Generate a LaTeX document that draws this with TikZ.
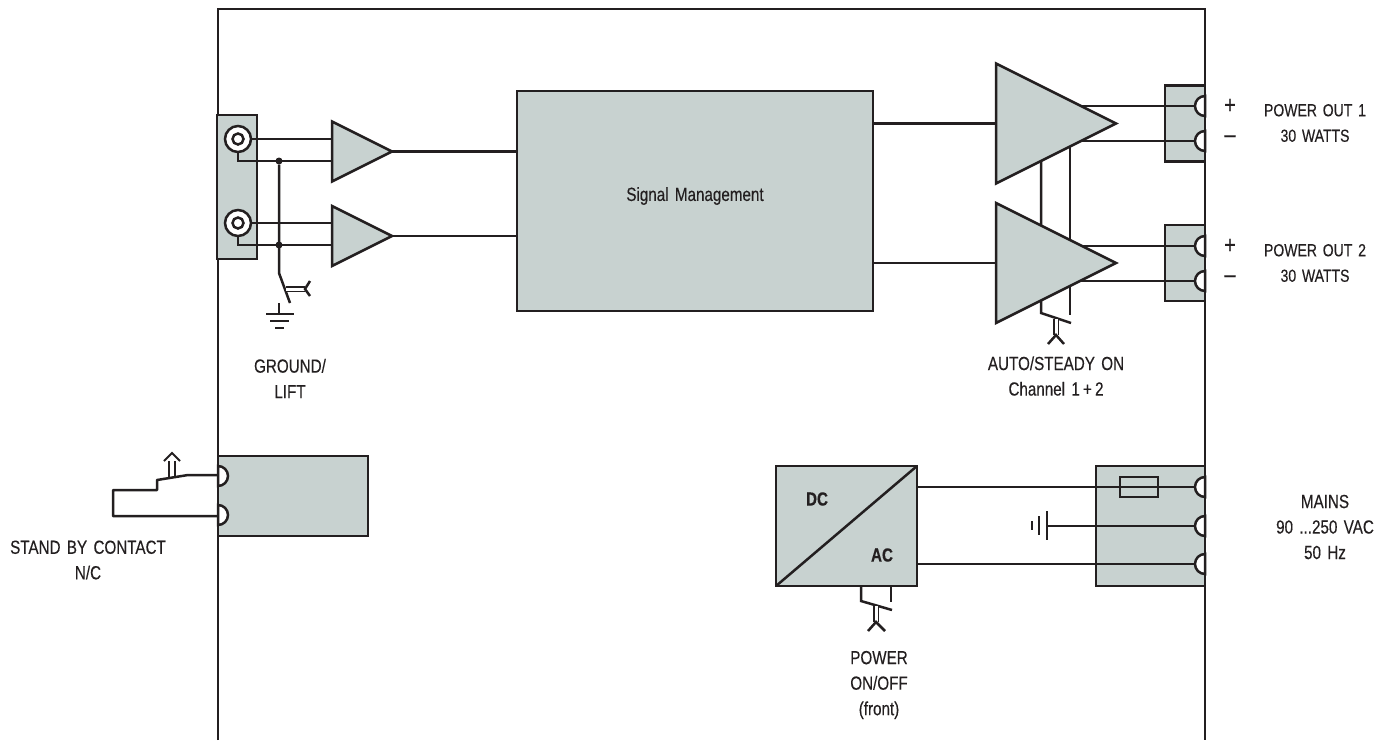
\documentclass[tikz,border=0pt]{standalone}
\usepackage{fontspec}
\setmainfont[FakeStretch=0.8,FakeBold=0.3,WordSpace=1.5]{Liberation Sans}
\usetikzlibrary{shapes.geometric,calc}
\definecolor{blockgrey}{HTML}{C8D2D0}
\definecolor{ink}{HTML}{231F20}
\tikzset{
    wire/.style={draw=ink,line width=2.5pt},
    block/.style={draw=ink,fill=blockgrey,line width=2.5pt,inner sep=0pt,outer sep=0pt},
    amp/.style={draw=ink,fill=blockgrey,line width=2.5pt,isosceles triangle,isosceles triangle stretches,inner sep=0pt,outer sep=0pt,shape border rotate=0,anchor=lower side},
    pin/.style={draw=ink,fill=white,line width=2.5pt},
    txt/.style={text=ink,align=center,inner sep=0pt,font=\fontsize{19}{25.5}\selectfont},
    sign/.style={text=ink,inner sep=0pt,font=\fontsize{25}{25}\selectfont},
    knob/.style={draw=ink,line width=1.5pt,double,double distance=3pt},
    dotpt/.style={circle,fill=ink,inner sep=0pt,minimum size=7pt}
}
\begin{document}
\begin{tikzpicture}[x=1pt,y=-1pt]
    \useasboundingbox (0,0) rectangle (1394,740);
    % frame
    \coordinate (fa) at (218,740);
    \coordinate (fb) at (218,9);
    \coordinate (fc) at (1205,9);
    \coordinate (fd) at (1205,740);
    \draw[wire](fa)--(fb)--(fc)--(fd);
    % blocks
    \node[block,minimum width=40pt,minimum height=144pt] (input) at (237,187) {};
    \node[block,minimum width=356pt,minimum height=220pt] (sig) at (695,201) {};
    \node[txt] (siglabel) at (695,196) {Signal Management};
    \node[block,minimum width=40pt,minimum height=76pt] (out1) at (1185,123.5) {};
    \node[block,minimum width=40pt,minimum height=76pt] (out2) at (1185,263) {};
    \node[block,minimum width=150pt,minimum height=80pt] (standby) at (293,496) {};
    \node[block,minimum width=141pt,minimum height=120pt] (psu) at (846.5,526) {};
    \node[block,minimum width=109pt,minimum height=120pt] (mains) at (1150.5,526) {};
    \draw[wire](psu.south west)--(psu.north east);
    \node[txt,font=\fontsize{19}{21}\bfseries\selectfont] (dc) at (817,499) {DC};
    \node[txt,font=\fontsize{19}{21}\bfseries\selectfont] (ac) at (882,555) {AC};
    % switching lines behind the power amplifiers
    \coordinate (swa) at (1041,160);
    \coordinate (swb) at (1041,313);
    \coordinate (swc) at (1071,323);
    \coordinate (swd) at (1070,147);
    \coordinate (swe) at (1070,315);
    \draw[wire](swa)--(swb)--(swc);
    \draw[wire](swd)--(swe);
    % amplifiers
    \node[amp,minimum width=60pt,minimum height=60pt] (ampa) at (332,151.5) {};
    \node[amp,minimum width=60pt,minimum height=60pt] (ampb) at (332,236) {};
    \node[amp,minimum width=120pt,minimum height=120pt] (ampc) at (996,123.5) {};
    \node[amp,minimum width=120pt,minimum height=120pt] (ampd) at (996,263) {};
    \draw[wire](ampa.apex)--(ampa.apex -| sig.west);
    \draw[wire](ampb.apex)--(ampb.apex -| sig.west);
    \draw[wire](sig.east |- ampc.lower side)--(ampc.lower side);
    \draw[wire](sig.east |- ampd.lower side)--(ampd.lower side);
    % inputs
    \node[pin,circle,minimum size=26pt,inner sep=0pt] (bnca) at (238,139) {};
    \node[pin,circle,minimum size=11pt,inner sep=0pt] (bncai) at (238,139) {};
    \node[pin,circle,minimum size=26pt,inner sep=0pt] (bncb) at (238,223) {};
    \node[pin,circle,minimum size=11pt,inner sep=0pt] (bncbi) at (238,223) {};
    \coordinate (ina) at (332,139);
    \coordinate (inb) at (332,161);
    \coordinate (inc) at (332,223);
    \coordinate (ind) at (332,245);
    \draw[wire](bnca.east)--(ina);
    \draw[wire](bnca.south)|-(inb);
    \draw[wire](bncb.east)--(inc);
    \draw[wire](bncb.south)|-(ind);
    \node[dotpt] (gnda) at (279,161) {};
    \node[dotpt] (gndb) at (279,245) {};
    % ground lift switch
    \coordinate (lfa) at (279,273);
    \coordinate (lfb) at (290,303);
    \coordinate (lfc) at (305,289);
    \coordinate (lfd) at (286,289);
    \coordinate (lfe) at (310,281);
    \coordinate (lff) at (310,296);
    \coordinate (lfg) at (279,303);
    \coordinate (lfh) at (279,314);
    \draw[wire](gnda)--(lfa)--(lfb);
    \draw[knob](lfd)--(lfc);
    \draw[wire](lfe)--(lfc)--(lff);
    \draw[wire](lfg)--(lfh);
    \draw[wire](266,314)--(294,314);
    \draw[wire](270,321)--(289,321);
    \draw[wire](275,328)--(284,328);
    % outputs
    \coordinate (oa) at (1081,106);
    \coordinate (ob) at (1081,141);
    \coordinate (oc) at (1081,246);
    \coordinate (od) at (1081,281);
    \coordinate (pa) at (1195,106);
    \coordinate (pb) at (1195,141);
    \coordinate (pc) at (1195,246);
    \coordinate (pd) at (1195,281);
    \draw[wire](oa)--(pa);
    \draw[wire](ob)--(pb);
    \draw[wire](oc)--(pc);
    \draw[wire](od)--(pd);
    % auto switch knob
    \draw[knob](1056,319)--(1056,335);
    \draw[wire](1048,344)--(1056,335)--(1064,344);
    % mains wires
    \coordinate (ma) at (1195,487);
    \coordinate (mb) at (1195,526);
    \coordinate (mc) at (1195,564);
    \coordinate (ea) at (1047,526);
    \draw[wire](psu.east |- ma)--(ma);
    \draw[wire](psu.east |- mc)--(mc);
    \draw[wire](ea)--(mb);
    \draw[wire](1047,511)--(1047,540);
    \draw[wire](1039,516)--(1039,535);
    \draw[wire](1032,521)--(1032,530);
    \node[block,minimum width=38pt,minimum height=20pt,fill=none] (fuse) at (1139,487) {};
    % power switch
    \coordinate (pwa) at (861,586);
    \coordinate (pwb) at (861,601);
    \coordinate (pwc) at (892,610);
    \coordinate (pwd) at (891,586);
    \coordinate (pwe) at (891,602);
    \draw[wire](pwa)--(pwb)--(pwc);
    \draw[wire](pwd)--(pwe);
    \draw[knob](876,606)--(876,622);
    \draw[wire](868,631)--(876,622)--(885,631);
    % stand by contact
    \coordinate (sba) at (218,475);
    \coordinate (sbb) at (188,475);
    \coordinate (sbc) at (157,480);
    \coordinate (sbd) at (157,490);
    \coordinate (sbe) at (113,490);
    \coordinate (sbf) at (113,516);
    \coordinate (sbg) at (218,516);
    \draw[wire,line join=round](sba)--(sbb)--(sbc)--(sbd)--(sbe)--(sbf)--(sbg);
    \draw[wire,line width=1.8pt](169,478)--(169,461);
    \draw[wire,line width=1.8pt](175,477)--(175,461);
    \draw[wire,line width=1.8pt](164,461)--(172,453)--(180,461);
    % half round terminals
    \draw[pin](1205,96) arc (-90:-270:10) -- cycle;
    \draw[pin](1205,131) arc (-90:-270:10) -- cycle;
    \draw[pin](1205,236) arc (-90:-270:10) -- cycle;
    \draw[pin](1205,271) arc (-90:-270:10) -- cycle;
    \draw[pin](1205,477) arc (-90:-270:10) -- cycle;
    \draw[pin](1205,516) arc (-90:-270:10) -- cycle;
    \draw[pin](1205,554) arc (-90:-270:10) -- cycle;
    \draw[pin](218,466) arc (-90:90:10) -- cycle;
    \draw[pin](218,505) arc (-90:90:10) -- cycle;
    % labels
    \node[sign] (plusa) at (1230,106) {+};
    \node[sign] (minusa) at (1230,139) {--};
    \node[sign] (plusb) at (1230,246) {+};
    \node[sign] (minusb) at (1230,279) {--};
    \node[txt,font=\fontsize{17.5}{25.5}\selectfont] (powa) at (1315,123) {POWER OUT 1\\30 WATTS};
    \node[txt,font=\fontsize{17.5}{25.5}\selectfont] (powb) at (1315,263) {POWER OUT 2\\30 WATTS};
    \node[txt] (auto) at (1056,376) {AUTO/STEADY ON\\Channel 1\,+\,2};
    \node[txt] (lift) at (290,378.5) {GROUND/\\LIFT};
    \node[txt] (contact) at (88,560) {STAND BY CONTACT\\N/C};
    \node[txt] (mainslabel) at (1325,527) {MAINS\\90 ...250 VAC\\50 Hz};
    \node[txt] (front) at (879,685) {POWER\\ON/OFF\\(front)};
\end{tikzpicture}
\end{document}
